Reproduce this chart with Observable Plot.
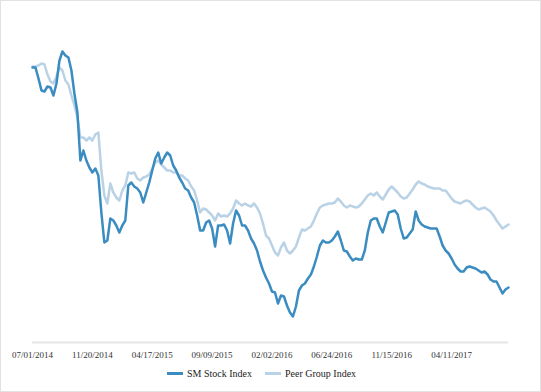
<!DOCTYPE html>
<html>
<head>
<meta charset="utf-8">
<script src="https://cdn.jsdelivr.net/npm/d3@7"></script>
<script src="https://cdn.jsdelivr.net/npm/@observablehq/plot@0.6"></script>
<style>
  html, body { margin: 0; padding: 0; background: #fff; }
  #frame { width: 541px; height: 392px; box-sizing: border-box; border: 1px solid #e2e2e2; background: #fff; overflow: hidden; }
  #legend { display: flex; align-items: center; padding-left: 166px; margin-top: 7px; font-family: "Liberation Serif", "Times New Roman", Times, "DejaVu Serif", serif; font-size: 10px; color: #222; }
  .item { display: flex; align-items: center; margin-right: 13px; }
  .sw { width: 16px; height: 3px; margin-right: 4px; }
  #chart svg text { font-family: "Liberation Serif", "Times New Roman", Times, "DejaVu Serif", serif; }
</style>
</head>
<body>
<div id="frame">
  <div id="chart"></div>
  <div id="legend"></div>
</div>
<script>
// Trading-day step between samples
const dayStep = 5;

// Tick labels at every 100 trading days
const tickLabels = ["07/01/2014", "11/20/2014", "04/17/2015", "09/09/2015", "02/02/2016", "06/24/2016", "11/15/2016", "04/11/2017"];

const seriesNames = ["SM Stock Index", "Peer Group Index"];
const seriesColors = ["#3a8cc1", "#bad2e6"];

// Indexed values (start = 100), sampled every 5 trading days
const smValues = [
  100.0, 100.0, 96.7, 93.1, 92.8, 94.3, 94.0, 91.6, 95.2, 102.1,
  104.8, 103.6, 103.0, 99.1, 92.2, 86.5, 72.1, 75.1, 72.1, 70.0,
  68.5, 69.7, 67.6, 56.5, 47.5, 48.1, 54.7, 54.1, 52.6, 50.5,
  52.6, 54.1, 64.6, 65.5, 64.3, 63.7, 62.5, 59.5, 62.5, 65.5,
  69.1, 72.7, 74.5, 71.2, 73.0, 74.5, 73.6, 70.6, 69.1, 67.0,
  65.5, 63.7, 63.1, 61.0, 59.5, 55.6, 51.1, 51.1, 53.5, 54.1,
  51.7, 46.3, 52.6, 52.6, 52.9, 51.1, 47.2, 53.2, 57.1, 55.6,
  52.6, 52.6, 51.1, 48.7, 47.2, 45.1, 41.8, 39.1, 37.0, 35.2,
  32.8, 32.5, 29.2, 31.6, 31.3, 28.6, 26.5, 25.3, 28.3, 33.1,
  34.6, 35.2, 36.7, 37.9, 40.3, 43.3, 46.6, 48.1, 47.5, 47.5,
  48.1, 49.3, 50.8, 48.1, 45.1, 44.8, 43.3, 42.1, 42.7, 42.4,
  42.4, 45.1, 50.5, 54.1, 54.7, 54.7, 52.3, 50.5, 53.5, 56.5,
  56.8, 57.1, 55.9, 51.7, 48.7, 49.0, 50.2, 51.4, 56.8, 54.1,
  52.9, 52.3, 52.0, 51.7, 51.7, 51.7, 49.3, 46.6, 45.1, 44.2,
  42.7, 40.9, 39.7, 38.8, 38.8, 40.0, 40.3, 40.0, 39.7, 39.1,
  38.5, 38.8, 37.9, 36.4, 35.8, 35.8, 34.0, 32.2, 33.4, 34.0
];

const peerValues = [
  100.3, 100.3, 100.6, 101.2, 100.9, 97.9, 95.8, 95.2, 97.3, 100.0,
  99.1, 96.1, 94.9, 91.6, 88.6, 85.0, 79.0, 79.0, 78.1, 79.0,
  78.1, 79.9, 80.5, 69.1, 61.6, 59.2, 65.2, 62.5, 61.0, 60.1,
  63.1, 64.6, 68.5, 68.2, 68.5, 66.7, 66.1, 67.0, 67.3, 67.9,
  69.7, 71.5, 72.1, 70.9, 70.0, 69.1, 69.1, 68.5, 68.5, 67.6,
  67.6, 66.7, 66.1, 64.3, 63.1, 60.1, 56.5, 57.7, 57.4, 56.5,
  55.6, 54.1, 56.2, 55.3, 55.6, 55.3, 56.2, 57.7, 60.1, 59.2,
  58.6, 59.2, 58.6, 58.3, 59.2, 58.0, 56.2, 53.2, 49.6, 48.7,
  46.6, 44.5, 43.6, 46.0, 47.5, 45.1, 44.2, 45.1, 46.3, 49.0,
  51.4, 51.1, 51.7, 52.3, 54.1, 56.2, 58.0, 58.6, 58.9, 59.2,
  59.2, 59.5, 60.7, 59.8, 58.6, 58.0, 58.6, 58.3, 58.0, 58.3,
  59.2, 60.4, 61.6, 62.2, 61.6, 62.5, 61.3, 60.4, 61.9, 63.4,
  64.3, 63.4, 62.5, 61.3, 60.7, 61.0, 62.2, 63.4, 64.9, 65.8,
  65.2, 64.9, 64.3, 64.0, 63.7, 63.7, 63.7, 63.1, 63.1, 61.9,
  60.7, 59.8, 59.5, 59.2, 59.8, 60.1, 59.8, 58.9, 58.0, 57.4,
  57.7, 58.0, 57.4, 56.8, 55.6, 54.1, 52.9, 51.7, 52.3, 52.9
];

const yDomain = [17.5, 113.8];

const rows = [];
[peerValues, smValues].forEach((vals, k) => {
  const name = k === 0 ? seriesNames[1] : seriesNames[0];
  vals.forEach((v, j) => rows.push({ day: j * dayStep, value: v, series: name }));
});

const lastDay = (smValues.length - 1) * dayStep;
const tickDays = tickLabels.map((_, j) => j * 100);

const chart = Plot.plot({
  width: 539,
  height: 360,
  marginLeft: 31,
  marginRight: 32,
  marginTop: 20,
  marginBottom: 19,
  style: { fontFamily: "'Liberation Serif', 'Times New Roman', Times, 'DejaVu Serif', serif", fontSize: "9px", color: "#333", background: "#fff" },
  x: { domain: [0, lastDay], axis: null },
  y: { domain: yDomain, axis: null },
  color: { domain: seriesNames, range: seriesColors },
  marks: [
    Plot.ruleY([yDomain[0]], { stroke: "#e6e6e6", strokeWidth: 2 }),
    Plot.axisX({
      ticks: tickDays,
      tickSize: 0,
      tickPadding: 9,
      tickFormat: d => tickLabels[d / 100],
      label: null,
      fill: "#333"
    }),
    Plot.line(rows, {
      x: "day",
      y: "value",
      z: "series",
      stroke: "series",
      strokeWidth: 2.5,
      strokeLinejoin: "round",
      curve: "linear"
    })
  ]
});
document.getElementById("chart").appendChild(chart);

const legend = document.getElementById("legend");
seriesNames.forEach((n, k) => {
  const it = document.createElement("div");
  it.className = "item";
  const sw = document.createElement("div");
  sw.className = "sw";
  sw.style.background = seriesColors[k];
  const t = document.createElement("span");
  t.textContent = n;
  it.appendChild(sw);
  it.appendChild(t);
  legend.appendChild(it);
});
</script>
</body>
</html>
